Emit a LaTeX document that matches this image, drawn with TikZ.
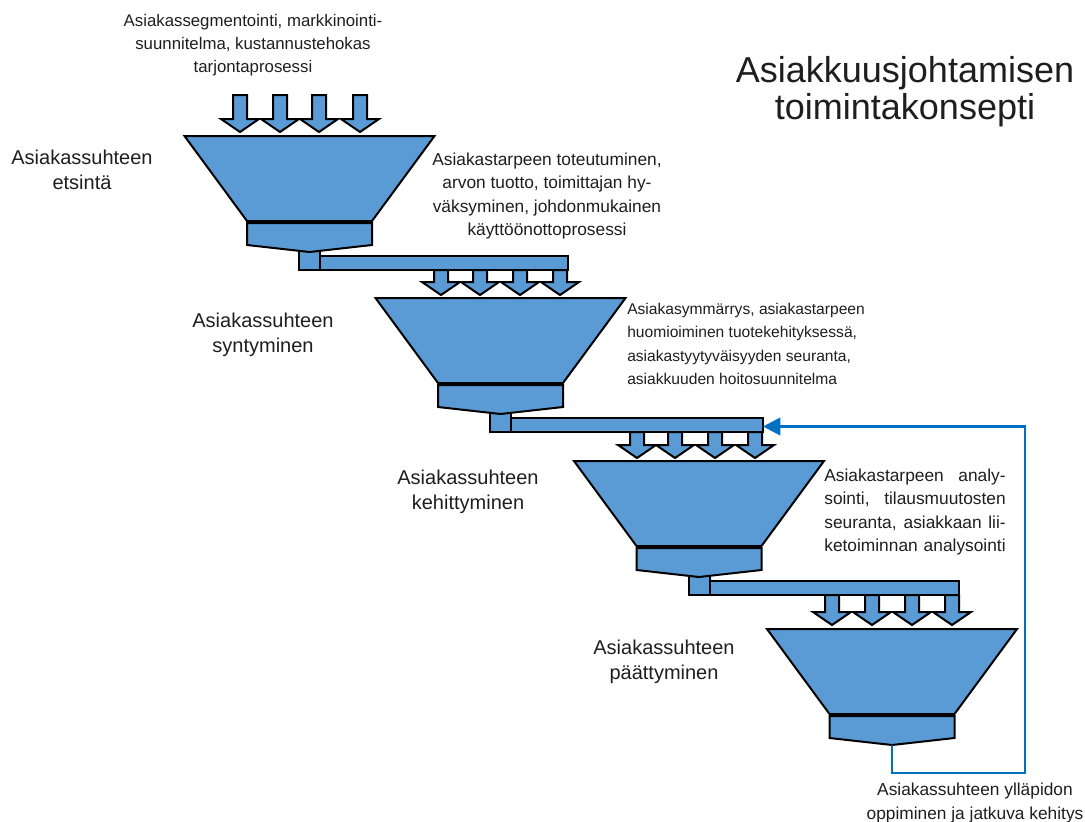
\documentclass[tikz,border=0pt]{standalone}
\usepackage{fontspec}
\setmainfont{Liberation Sans}
\usetikzlibrary{arrows.meta,calc}
\definecolor{fblue}{RGB}{91,155,213}
\definecolor{lblue}{RGB}{0,112,192}
\definecolor{txt}{RGB}{30,30,30}

\newcommand\PipeSquare[2]{% cx, top
  \path[part] (#1-10.5,#2+110) rectangle (#1+10.5,#2+134);
}
\newcommand\Funnel[3]{% #1 name, #2 cx, #3 top
  \path[part] (#2-125,#3) -- (#2+125,#3) -- (#2+62.5,#3+85) -- (#2-62.5,#3+85) -- cycle;
  \path[part] (#2-62.5,#3+87) -- (#2+62.5,#3+87) -- (#2+62.5,#3+109) -- (#2,#3+116) -- (#2-62.5,#3+109) -- cycle;
  \coordinate (#1bot) at (#2,#3+116);
}
\newcommand\Pipe[3]{% xstart, ytop(funnel top), xend
  \path[part] (#1,#2+120) rectangle (#3,#2+134);
}
\newcommand\BlockArrow[3]{% x, ystart, ytip
  \path[part] (#1-7,#2) -- (#1+7,#2) -- (#1+7,#3-13) -- (#1+19,#3-13) -- (#1,#3) -- (#1-19,#3-13) -- (#1-7,#3-13) -- cycle;
}
\newcommand\JLine[1]{\makebox[136pt][s]{#1}}

\begin{document}
\begin{tikzpicture}[x=0.75pt,y=-0.75pt,
  part/.style={fill=fblue,draw=black,line width=1.5pt,line join=miter},
  feedback/.style={draw=lblue,line width=2.2pt,-{Triangle[length=13pt,width=13pt]}},
  small/.style={font=\fontsize{13}{17.5}\selectfont,align=center,text=txt,inner sep=0pt},
  stage/.style={font=\fontsize{15}{18.75}\selectfont,align=center,text=txt,inner sep=0pt},
  title/.style={font=\fontsize{27}{28}\selectfont,align=center,text=txt,inner sep=0pt}]
\useasboundingbox (0,0) rectangle (1085,821);

% funnel 1 and its pipe
\Pipe{320}{136}{568}
\PipeSquare{309.5}{136}
\Funnel{fa}{309.5}{136}
% funnel 2
\Pipe{511}{298}{763}
\PipeSquare{500.5}{298}
\Funnel{fb}{500.5}{298}
% funnel 3
\Pipe{709.5}{461}{959}
\PipeSquare{699}{461}
\Funnel{fc}{699}{461}
% funnel 4
\Funnel{fd}{892}{629}

% input arrows
\foreach \x in {240,280,319,360} {\BlockArrow{\x}{95}{132}}
\foreach \x in {441,480,520,560} {\BlockArrow{\x}{270}{295}}
\foreach \x in {637,675,715,755} {\BlockArrow{\x}{432}{458}}
\foreach \x in {832,872,912,952} {\BlockArrow{\x}{595}{625}}

% feedback loop
\coordinate (p2end) at (763,426.5);
\coordinate (fbcorner) at (1025,773);
\draw[feedback] (fdbot) |- (fbcorner) |- (p2end);

% texts
\node[title] (title) at (905,92) {Asiakkuusjohtamisen\\toimintakonsepti};
\node[small,font=\fontsize{12.6}{17.5}\selectfont] (in1) at (253,45) {Asiakassegmentointi, markkinointi-\\suunnitelma, kustannustehokas\\tarjontaprosessi};
\node[stage] (s1) at (82,170) {Asiakassuhteen\\etsintä};
\node[small] (in2) at (547,196) {Asiakastarpeen toteutuminen,\\arvon tuotto, toimittajan hy-\\väksyminen, johdonmukainen\\käyttöönottoprosessi};
\node[stage] (s2) at (263,335) {Asiakassuhteen\\syntyminen};
\node[small,font=\fontsize{11.7}{17.5}\selectfont,align=left,anchor=west] (in3) at (627,344) {Asiakasymmärrys, asiakastarpeen\\huomioiminen tuotekehityksessä,\\asiakastyytyväisyyden seuranta,\\asiakkuuden hoitosuunnitelma};
\node[stage] (s3) at (468,492) {Asiakassuhteen\\kehittyminen};
\node[small] (in4) at (915,512) {\JLine{Asiakastarpeen analy-}\\\JLine{sointi, tilausmuutosten}\\\JLine{seuranta, asiakkaan lii-}\\\JLine{ketoiminnan analysointi}};
\node[stage] (s4) at (664,662) {Asiakassuhteen\\päättyminen};
\node[small] (out) at (975,803) {Asiakassuhteen ylläpidon\\oppiminen ja jatkuva kehitys};
\end{tikzpicture}
\end{document}
